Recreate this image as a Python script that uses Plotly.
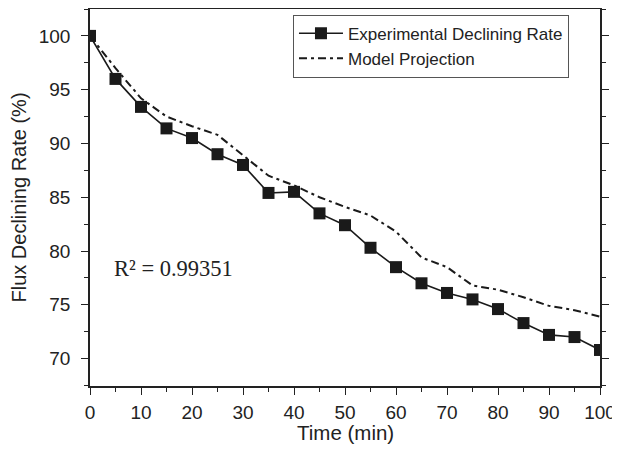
import plotly.graph_objects as go

time_min = [0, 5, 10, 15, 20, 25, 30, 35, 40, 45, 50, 55, 60, 65, 70, 75, 80, 85, 90, 95, 100]
experimental = [100, 96.0, 93.4, 91.4, 90.5, 89.0, 88.0, 85.4, 85.5, 83.5, 82.4, 80.3, 78.5, 77.0, 76.1, 75.5, 74.6, 73.3, 72.2, 72.0, 70.8]
model = [100, 97.0, 94.2, 92.5, 91.6, 90.8, 88.9, 87.0, 86.1, 85.0, 84.1, 83.3, 81.8, 79.4, 78.5, 76.8, 76.4, 75.7, 74.9, 74.5, 73.9]
x_ticks = [0, 10, 20, 30, 40, 50, 60, 70, 80, 90, 100]
y_ticks = [70, 75, 80, 85, 90, 95, 100]
x_title = "Time (min)"
y_title = "Flux Declining Rate (%)"
r2_text = "R² = 0.99351"

fig = go.Figure()
fig.add_trace(go.Scatter(
    x=time_min, y=experimental, mode="lines+markers",
    name="Experimental Declining Rate",
    line=dict(color="#1a1a1a", width=1.6),
    marker=dict(symbol="square", size=12, color="#1a1a1a"),
))
fig.add_trace(go.Scatter(
    x=time_min, y=model, mode="lines",
    name="Model Projection",
    line=dict(color="#1a1a1a", width=2, dash="8px,4px,3px,4px"),
))

axis_common = dict(
    showline=True, linecolor="#222", linewidth=1.5, mirror="ticks",
    ticks="outside", ticklen=7, tickwidth=1.2, tickcolor="#222",
    showgrid=False, zeroline=False, automargin=False,
    tickfont=dict(family="Liberation Sans, Arial", size=19, color="#222"),
)

fig.update_xaxes(
    range=[0, 100], tickvals=x_ticks,
    minor=dict(ticks="outside", ticklen=4, dtick=5, tickcolor="#222", showgrid=False),
    ticklabelstandoff=1,
    **axis_common,
)
fig.update_yaxes(
    range=[67.45, 102.5], tickvals=y_ticks,
    minor=dict(ticks="outside", ticklen=4, dtick=2.5, tickcolor="#222", showgrid=False),
    title=dict(text=y_title, font=dict(family="Liberation Sans, Arial", size=20, color="#222"), standoff=12),
    ticklabelstandoff=7,
    **axis_common,
)

# x-axis title as text below the axis
fig.add_annotation(
    x=0.5, xref="paper", y=0, yref="paper", yshift=-46, text=x_title, showarrow=False,
    xanchor="center", yanchor="middle",
    font=dict(family="Liberation Sans, Arial", size=20.5, color="#222"),
)

fig.add_annotation(
    x=0.043, xref="paper", y=78.4, yref="y", text=r2_text, showarrow=False,
    xanchor="left", yanchor="middle",
    font=dict(family="Liberation Serif, Times New Roman", size=22.5, color="#222"),
)

# page body has an 8px default margin, so the figure is 8px smaller than the window
fig.update_layout(
    width=612, height=444,
    margin=dict(l=82, r=20, t=1, b=66),
    paper_bgcolor="white", plot_bgcolor="white",
    legend=dict(
        x=0.398, y=0.985, xanchor="left", yanchor="top",
        bordercolor="#555", borderwidth=1, bgcolor="white",
        font=dict(family="Liberation Sans, Arial", size=17, color="#222"),
        itemwidth=44, tracegroupgap=0,
    ),
    showlegend=True,
)

fig.write_html("out.html")
